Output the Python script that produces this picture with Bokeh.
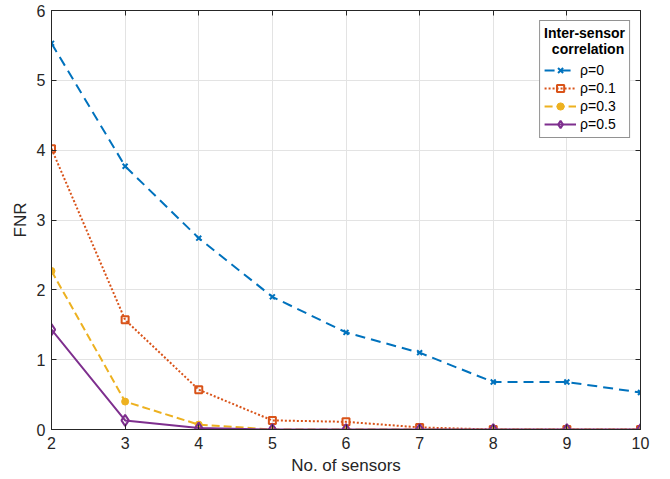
from bokeh.plotting import figure
from bokeh.models import LinearAxis, Legend, LegendItem, FixedTicker, CustomJSTickFormatter
from bokeh.embed import file_html
from bokeh.resources import INLINE

sensors = [2, 3, 4, 5, 6, 7, 8, 9, 10]
fnr_rho0 = [5.53, 3.77, 2.74, 1.90, 1.39, 1.10, 0.68, 0.68, 0.53]
fnr_rho01 = [4.02, 1.57, 0.57, 0.13, 0.11, 0.03, 0.0, 0.0, 0.0]
fnr_rho03 = [2.27, 0.40, 0.07, 0.0, 0.0, 0.0, 0.0, 0.0, 0.0]
fnr_rho05 = [1.43, 0.13, 0.02, 0.0, 0.0, 0.0, 0.0, 0.0, 0.0]
labels = ["ρ=0", "ρ=0.1", "ρ=0.3", "ρ=0.5"]
legend_title = "Inter-sensor\n\u00a0\u00a0correlation"
x_ticks = [2, 3, 4, 5, 6, 7, 8, 9, 10]
y_ticks = [0, 1, 2, 3, 4, 5, 6]

FONT = "Liberation Sans"
AX = "#262626"

p = figure(width=670, height=479, x_range=(2, 10), y_range=(0, 6),
           output_backend="svg", toolbar_location=None,
           min_border_left=51, min_border_right=30, min_border_top=10, min_border_bottom=50)
p.outline_line_color = AX
p.outline_line_width = 1
p.background_fill_color = "white"

for ax in (p.xaxis[0], p.yaxis[0]):
    ax.major_tick_in = 5
    ax.major_tick_out = 0
    ax.minor_tick_line_color = None
    ax.axis_line_color = AX
    ax.major_tick_line_color = AX
    ax.major_label_text_font = FONT
    ax.major_label_text_font_size = "16px"
    ax.major_label_text_color = "#262626"
    ax.axis_label_text_font = FONT
    ax.axis_label_text_font_size = "17px"
    ax.axis_label_text_font_style = "normal"
    ax.axis_label_text_color = "#262626"
p.xaxis[0].ticker = FixedTicker(ticks=x_ticks)
p.yaxis[0].ticker = FixedTicker(ticks=y_ticks)
p.xaxis[0].axis_label = "No. of sensors"
p.yaxis[0].axis_label = "FNR"
p.xaxis[0].major_label_standoff = 7
p.yaxis[0].major_label_standoff = 6
p.xaxis[0].axis_label_standoff = 4
p.yaxis[0].axis_label_standoff = 4

blank = CustomJSTickFormatter(code="return ''")
top = LinearAxis(ticker=FixedTicker(ticks=x_ticks), major_tick_in=5, major_tick_out=0,
                 minor_tick_line_color=None, formatter=blank,
                 major_label_standoff=0, axis_line_color=AX, major_tick_line_color=AX)
right = LinearAxis(ticker=FixedTicker(ticks=y_ticks), major_tick_in=5, major_tick_out=0,
                   minor_tick_line_color=None, formatter=blank,
                   major_label_standoff=0, axis_line_color=AX, major_tick_line_color=AX)
p.add_layout(top, "above")
p.add_layout(right, "right")

p.xgrid.ticker = FixedTicker(ticks=x_ticks)
p.ygrid.ticker = FixedTicker(ticks=y_ticks)
p.grid.grid_line_color = "#e3e3e3"
p.grid.grid_line_width = 1

c0, c1, c2, c3 = "#0072BD", "#D95319", "#EDB120", "#7E2F8E"

l0 = p.line(sensors, fnr_rho0, line_color=c0, line_width=2, line_dash="10 6")
m0 = p.scatter(sensors, fnr_rho0, marker="x", size=7, line_color=c0, line_width=2)
l1 = p.line(sensors, fnr_rho01, line_color=c1, line_width=2, line_dash="2 2")
m1 = p.scatter(sensors, fnr_rho01, marker="square", size=7, line_color=c1, fill_color=None, line_width=2)
l2 = p.line(sensors, fnr_rho03, line_color=c2, line_width=2, line_dash="8 4")
m2 = p.scatter(sensors, fnr_rho03, marker="circle", size=7, line_color=c2, fill_color=c2, line_width=1)
l3 = p.line(sensors, fnr_rho05, line_color=c3, line_width=2)
m3 = p.scatter(sensors, fnr_rho05, marker="diamond", size=11, line_color=c3, fill_color=None, line_width=2)

legend = Legend(items=[
    LegendItem(label=labels[0], renderers=[l0, m0]),
    LegendItem(label=labels[1], renderers=[l1, m1]),
    LegendItem(label=labels[2], renderers=[l2, m2]),
    LegendItem(label=labels[3], renderers=[l3, m3]),
], location="top_right")
legend.title = legend_title
legend.title_text_font = FONT
legend.title_text_font_style = "bold"
legend.title_text_font_size = "14px"
legend.title_text_color = "#000000"
legend.title_standoff = 4
legend.label_text_font = FONT
legend.label_text_font_size = "14px"
legend.label_text_color = "#000000"
legend.border_line_color = AX
legend.border_line_width = 1
legend.margin = 10
legend.padding = 4
legend.spacing = 0
legend.glyph_width = 32
legend.glyph_height = 18
legend.label_height = 18
legend.label_standoff = 4
legend.background_fill_alpha = 1
p.add_layout(legend)

open("out.html", "w").write(file_html(p, INLINE))
